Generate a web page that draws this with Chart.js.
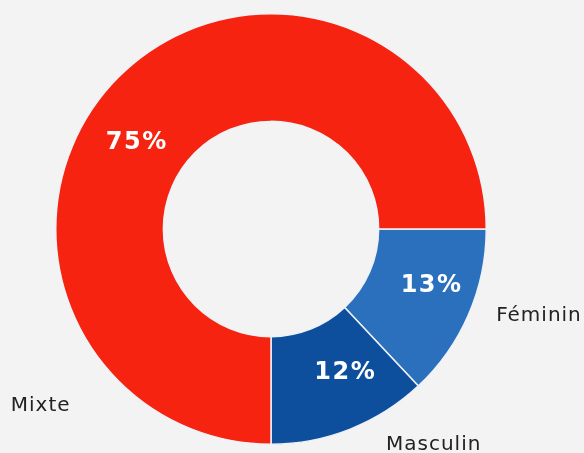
<!DOCTYPE html>
<html>
<head>
<meta charset="utf-8">
<script src="https://cdn.jsdelivr.net/npm/chart.js@4"></script>
<style>
  html, body { margin: 0; padding: 0; background: #f3f3f3; }
  #wrap { width: 584px; height: 453px; position: relative; }
</style>
</head>
<body>
<div id="wrap"><canvas id="c" width="584" height="453"></canvas></div>
<script>
// Répartition des équipes par type
const categories = ['Féminin', 'Masculin', 'Mixte'];
const shares = [13, 12, 75];
const sliceColors = ['#2a70bc', '#0d4f9d', '#f5230f'];

// Étiquettes : pourcentage dans l'anneau, nom à l'extérieur
const ringLabels = {
  id: 'ringLabels',
  afterDatasetsDraw(chart, args, opts) {
    const ctx = chart.ctx;
    const meta = chart.getDatasetMeta(0);
    const data = chart.data.datasets[0].data;
    meta.data.forEach((arc, i) => {
      const p = arc.getProps(['x', 'y', 'startAngle', 'endAngle', 'innerRadius', 'outerRadius'], true);
      const span = p.endAngle - p.startAngle;
      // valeur
      const a1 = p.startAngle + span * opts.valueAt[i];
      const r1 = (p.innerRadius + p.outerRadius) / 2 + opts.valueShift[i];
      ctx.save();
      ctx.fillStyle = '#ffffff';
      ctx.font = 'bold 24px "DejaVu Sans", sans-serif';
      ctx.textAlign = 'center';
      ctx.textBaseline = 'middle';
      if ('letterSpacing' in ctx) ctx.letterSpacing = '1.5px';
      ctx.fillText(data[i] + '%', p.x + Math.cos(a1) * r1 + 1, p.y + Math.sin(a1) * r1);
      ctx.restore();
      // nom
      const a2 = p.startAngle + span * opts.nameAt[i];
      const r2 = p.outerRadius + opts.nameGap[i];
      const nx = p.x + Math.cos(a2) * r2;
      const ny = p.y + Math.sin(a2) * r2;
      ctx.save();
      ctx.fillStyle = '#222222';
      ctx.font = '20px "DejaVu Sans", sans-serif';
      ctx.textAlign = Math.cos(a2) >= 0 ? 'left' : 'right';
      ctx.textBaseline = 'middle';
      if ('letterSpacing' in ctx) ctx.letterSpacing = '1px';
      ctx.fillText(chart.data.labels[i], nx, ny);
      ctx.restore();
    });
  }
};

new Chart(document.getElementById('c'), {
  type: 'doughnut',
  data: {
    labels: categories,
    datasets: [{
      data: shares,
      backgroundColor: sliceColors,
      borderColor: '#eef2f7',
      borderWidth: 1.5,
      hoverOffset: 0
    }]
  },
  options: {
    responsive: false,
    animation: false,
    rotation: 90,
    cutout: '50%',
    layout: { padding: { left: 55, right: 97, top: 12, bottom: 7 } },
    events: [],
    plugins: {
      legend: { display: false },
      tooltip: { enabled: false },
      ringLabels: {
        valueAt: [0.419, 0.375, 0.454],
        valueShift: [8, 0, -1],
        nameAt: [0.45, 0.35, 0.18],
        nameGap: [26, 29, 52]
      }
    }
  },
  plugins: [ringLabels]
});
</script>
</body>
</html>
